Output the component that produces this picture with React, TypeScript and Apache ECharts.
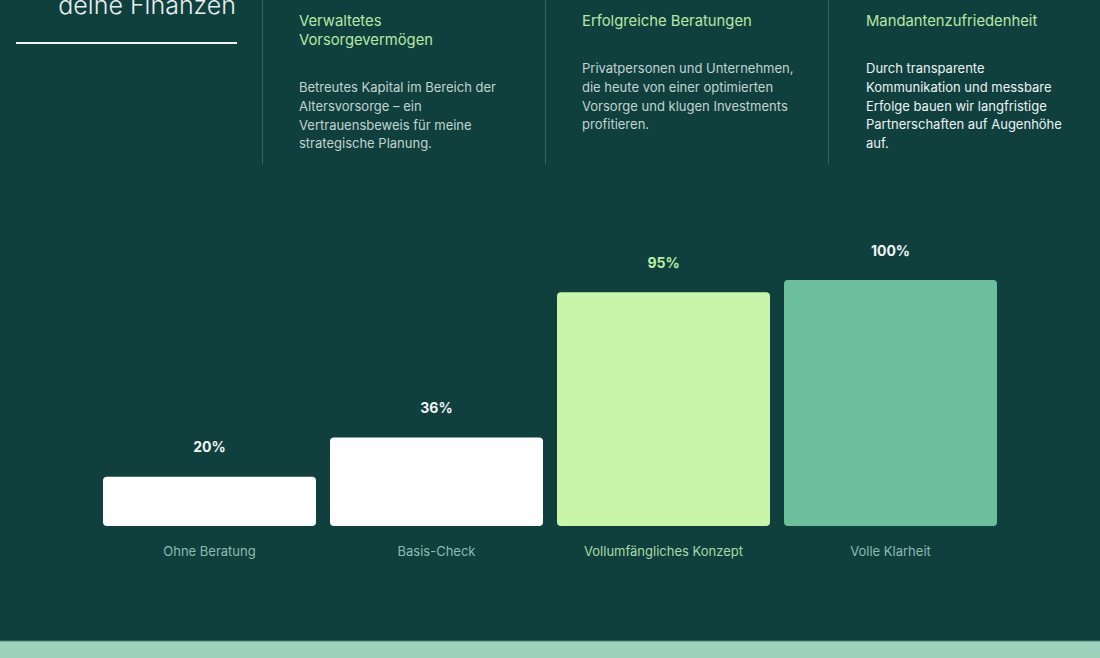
import * as echarts from "echarts";
import { useEffect, useRef } from "react";

const BG = "#0f403e";
const FONT = "Inter, 'Noto Sans', sans-serif";
const HEAD = "#b6e8a2";
const BODY = "#c3d3cf";
const BRIGHT = "#eef3f1";

const CATEGORIES = ["Ohne Beratung", "Basis-Check", "Vollumfängliches Konzept", "Volle Klarheit"];
const VALUES = [20, 36, 95, 100];
const BAR_COLORS = ["#ffffff", "#ffffff", "#c8f5a9", "#6cbf9d"];
const VALUE_COLORS = ["#f2f5f4", "#f2f5f4", "#b9eea2", "#f2f5f4"];
const CAT_COLORS = ["#8dbcae", "#8dbcae", "#a9dca2", "#8dbcae"];

const HEADINGS = ["Verwaltetes\nVorsorgevermögen", "Erfolgreiche Beratungen", "Mandantenzufriedenheit"];
const BODIES = [
  "Betreutes Kapital im Bereich der\nAltersvorsorge – ein\nVertrauensbeweis für meine\nstrategische Planung.",
  "Privatpersonen und Unternehmen,\ndie heute von einer optimierten\nVorsorge und klugen Investments\nprofitieren.",
  "Durch transparente\nKommunikation und messbare\nErfolge bauen wir langfristige\nPartnerschaften auf Augenhöhe\nauf.",
];

const COL_X = [299, 582, 866];
const BODY_TOP = [77.6, 58.6, 58.6];
const BODY_FILL = [BODY, BODY, BRIGHT];

function buildOption(): echarts.EChartsCoreOption {
  const graphics: any[] = [
    {
      type: "text",
      style: {
        text: "deine Finanzen",
        x: 236,
        y: 17,
        align: "right",
        verticalAlign: "bottom",
        font: `300 25px ${FONT}`,
        fill: "#e8efed",
      },
    },
    {
      type: "line",
      shape: { x1: 16, y1: 43, x2: 237, y2: 43 },
      style: { stroke: "#eef3f1", lineWidth: 2 },
    },
    { type: "rect", shape: { x: 0, y: 641, width: 1100, height: 17 }, style: { fill: "#9dd3bb" } },
    { type: "line", shape: { x1: 0, y1: 641, x2: 1100, y2: 641 }, style: { stroke: "#4f7f76", lineWidth: 1 } },
  ];
  [262, 545, 828].forEach((x) => {
    graphics.push({
      type: "line",
      shape: { x1: x + 0.5, y1: 0, x2: x + 0.5, y2: 164 },
      style: { stroke: "#34665f", lineWidth: 1 },
    });
  });
  HEADINGS.forEach((h, i) => {
    graphics.push({
      type: "text",
      style: {
        text: h,
        x: COL_X[i],
        y: 11.5,
        verticalAlign: "top",
        font: `400 14.8px ${FONT}`,
        lineHeight: 19,
        fill: HEAD,
      },
    });
    graphics.push({
      type: "text",
      style: {
        text: BODIES[i],
        x: COL_X[i],
        y: BODY_TOP[i],
        verticalAlign: "top",
        font: `400 13px ${FONT}`,
        lineHeight: 18.8,
        fill: BODY_FILL[i],
      },
    });
  });

  return {
    animation: false,
    backgroundColor: BG,
    grid: { left: 96, right: 96, top: 280, bottom: 132 },
    xAxis: {
      type: "category",
      data: CATEGORIES,
      axisLine: { show: false },
      axisTick: { show: false },
      axisLabel: {
        margin: 18,
        fontFamily: FONT,
        fontSize: 13,
        color: (_v: any, i: number) => CAT_COLORS[i],
      },
    },
    yAxis: {
      type: "value",
      min: 0,
      max: 100,
      show: false,
      splitLine: { show: false },
    },
    series: [
      {
        type: "bar",
        barWidth: 213,
        barGap: "0%",
        data: VALUES.map((v, i) => ({
          value: v,
          itemStyle: { color: BAR_COLORS[i], borderRadius: 4 },
          label: { color: VALUE_COLORS[i] },
        })),
        label: {
          show: true,
          position: "top",
          distance: 23,
          formatter: "{c}%",
          fontFamily: FONT,
          fontSize: 14,
          fontWeight: 700,
        },
      },
    ],
    graphic: graphics,
  };
}

export default function App() {
  const ref = useRef<HTMLDivElement>(null);

  useEffect(() => {
    const el = ref.current;
    if (!el) return;
    const chart = echarts.init(el, undefined, { renderer: "svg" });
    chart.setOption(buildOption());
    return () => chart.dispose();
  }, []);

  return (
    <div
      ref={ref}
      style={{ position: "fixed", left: 0, top: 0, width: 1100, height: 658, background: BG }}
    />
  );
}
